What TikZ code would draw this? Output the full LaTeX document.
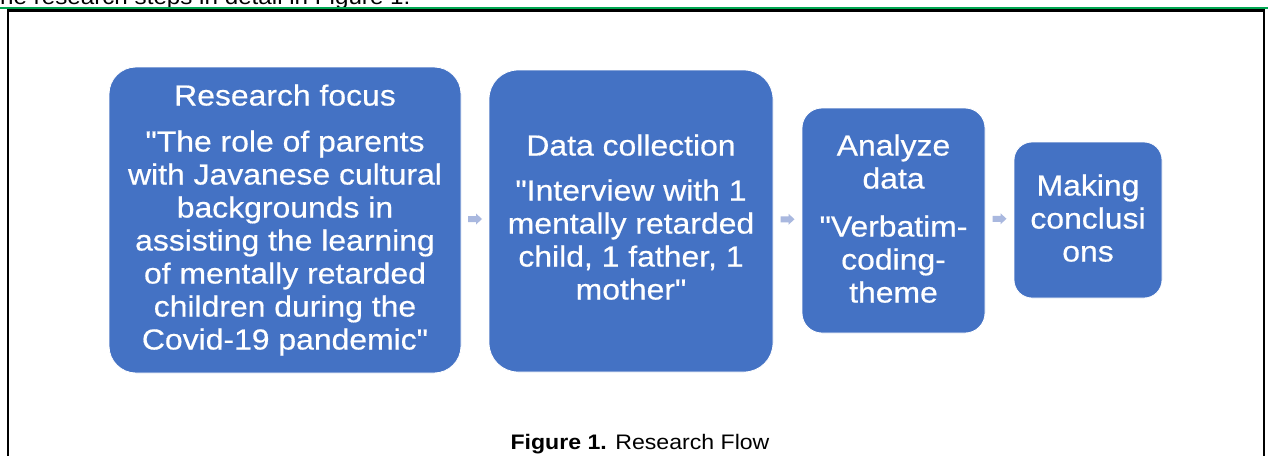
\documentclass[tikz,border=0pt]{standalone}
\usepackage{fontspec}
\setmainfont{Liberation Sans}[FakeStretch=1.1, Ligatures=TeXOff]
\newfontfamily\boxfont{Liberation Sans}[FakeStretch=1.1, FakeBold=0.5, Ligatures=TeXOff]
\usetikzlibrary{calc}
\definecolor{boxblue}{HTML}{4472C4}
\definecolor{arrowblue}{HTML}{A9B8DF}
\definecolor{rulegreen}{HTML}{00A651}
\tikzset{
  stepbox/.style={fill=boxblue, draw=white, line width=0.8pt, text=white,
    align=center, inner sep=0pt, font=\boxfont\fontsize{29}{33}\selectfont},
  flowarrow/.style={fill=arrowblue, draw=none},
  framerule/.style={line width=2.8pt, black},
}
\begin{document}
\begin{tikzpicture}[x=1pt,y=-1pt]
\useasboundingbox (0,0) rectangle (1268,455);
\clip (0,0) rectangle (1268,455);
\fill[white] (0,0) rectangle (1268,455);
% cropped text line at the top
\node[anchor=base west, inner sep=0pt, font=\fontsize{22}{26}\selectfont] (toptext) at (0,4.5) {he research steps in detail in Figure 1.};
\draw[rulegreen, line width=2pt] (0,8.2) -- (1268,8.2);
\draw[framerule] (8,456) -- (8,10.6) -- (1264,10.6) -- (1264,456);
% boxes
\node[stepbox, minimum width=352pt, minimum height=306pt, rounded corners=27pt] (b1) at (285,220)
  {Research focus\\[13pt] "The role of parents\\ with Javanese cultural\\ backgrounds in\\ assisting the learning\\ of mentally retarded\\ children during the\\ Covid-19 pandemic"};
\node[stepbox, minimum width=284pt, minimum height=302pt, rounded corners=29pt] (b2) at (631,221)
  {Data collection\\[12pt] "Interview with 1\\ mentally retarded\\ child, 1 father, 1\\ mother"\\[-25pt]\mbox{}};
\node[stepbox, minimum width=183pt, minimum height=225pt, rounded corners=20pt] (b3) at (893.5,220.5)
  {Analyze\\ data\\[15pt] "Verbatim-\\ coding-\\ theme\\[-29pt]\mbox{}};
\node[stepbox, minimum width=148pt, minimum height=156pt, rounded corners=18pt] (b4) at (1088,220)
  {Making\\ conclusi\\ ons\\[-29pt]\mbox{}};
% arrows (block arrows between the boxes)
\coordinate (a1) at ($(b1.east)!0.5!(b2.west)+(0,-1.5)$);
\coordinate (a2) at ($(b2.east)!0.5!(b3.west)+(0,-1.5)$);
\coordinate (a3) at ($(b3.east)!0.5!(b4.west)+(0,-1.5)$);
\foreach \a in {a1,a2,a3}
  \fill[flowarrow, shift={(\a)}] (-7,-3) -- (1,-3) -- (1,-5.5) -- (7,0) -- (1,5.5) -- (1,3) -- (-7,3) -- cycle;
% caption
\node[anchor=base, inner sep=0pt, font=\fontsize{21}{25}\selectfont] (cap) at (640,449) {\textbf{Figure 1.} Research Flow};
\end{tikzpicture}
\end{document}
